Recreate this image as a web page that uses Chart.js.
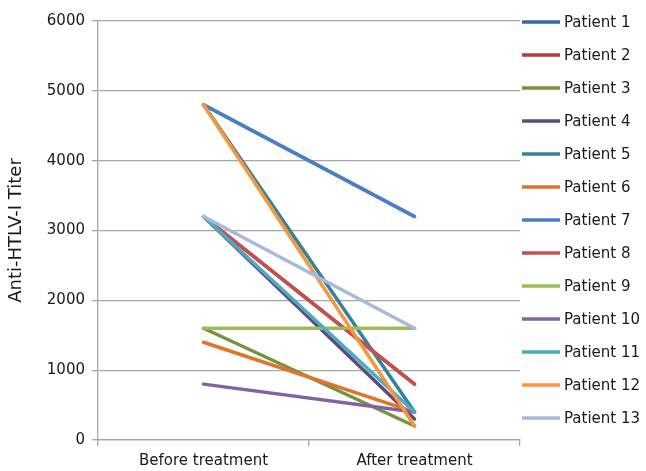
<!DOCTYPE html>
<html>
<head>
<meta charset="utf-8">
<script src="https://cdn.jsdelivr.net/npm/chart.js@4/dist/chart.umd.min.js"></script>
<style>
  html, body { margin: 0; padding: 0; background: #fff; }
  #wrap { width: 646px; height: 471px; }
</style>
</head>
<body>
<div id="wrap"><canvas id="c" width="646" height="471"></canvas></div>
<script>
// Anti-HTLV-I antibody titers per patient, before and after treatment
const timepoints = ['Before treatment', 'After treatment'];
const patients = ['Patient 1', 'Patient 2', 'Patient 3', 'Patient 4', 'Patient 5', 'Patient 6', 'Patient 7',
                  'Patient 8', 'Patient 9', 'Patient 10', 'Patient 11', 'Patient 12', 'Patient 13'];
const before = [4800, 3200, 1600, 3200, 4800, 1400, 4800, 3200, 1600, 800, 3200, 4800, 3200];
const after  = [3200,  800,  200,  300,  400,  400, 3200,  800, 1600, 400,  400,  200, 1600];
const yTicks = [0, 1000, 2000, 3000, 4000, 5000, 6000];
const colors = ['#3a66a3', '#b03c38', '#77933c', '#604a7b', '#31849b', '#e0742a', '#4a7ec9',
                '#c4504d', '#9bbb59', '#8064a2', '#4bacc6', '#f7963c', '#a7badc'];

const FONT = 'DejaVu Sans';
const GRID = '#a6a6a6';
const TEXT = '#1a1a1a';

const datasets = patients.map((name, i) => ({
  label: name,
  data: [before[i], after[i]],
  borderColor: colors[i],
  backgroundColor: colors[i],
  borderWidth: 3.5,
  borderCapStyle: 'round',
  pointRadius: 0,
  pointHoverRadius: 0,
  tension: 0,
  // later series are painted over earlier ones
  order: patients.length - i
}));

// Legend drawn as a single column of line swatches to the right of the plot
const sideLegend = {
  id: 'sideLegend',
  afterDraw(chart) {
    const ctx = chart.ctx;
    const area = chart.chartArea;
    ctx.save();
    ctx.font = '15px "' + FONT + '"';
    ctx.textBaseline = 'middle';
    ctx.fillStyle = TEXT;
    chart.data.datasets.forEach((ds, i) => {
      const y = area.top + 1 + i * 33;
      ctx.strokeStyle = ds.borderColor;
      ctx.lineWidth = 3.5;
      ctx.lineCap = 'butt';
      ctx.beginPath();
      ctx.moveTo(area.right + 2, y);
      ctx.lineTo(area.right + 40, y);
      ctx.stroke();
      ctx.fillText(ds.label, area.right + 44, y + 1);
    });
    ctx.restore();
  }
};

new Chart(document.getElementById('c'), {
  type: 'line',
  data: { labels: timepoints, datasets },
  plugins: [sideLegend],
  options: {
    responsive: false,
    animation: false,
    layout: { padding: { left: 0, right: 126, top: 21, bottom: 0 } },
    plugins: { legend: { display: false }, tooltip: { enabled: false } },
    scales: {
      x: {
        type: 'category',
        offset: true,
        grid: { display: true, offset: true, drawOnChartArea: false, drawTicks: true,
                tickLength: 6, color: GRID, lineWidth: 1.3 },
        border: { display: true, color: GRID, width: 1.3 },
        ticks: { color: TEXT, font: { family: FONT, size: 15 }, padding: 6, maxRotation: 0 },
        afterFit(scale) { scale.height = 31; }
      },
      y: {
        min: 0,
        max: 6000,
        afterBuildTicks(scale) { scale.ticks = yTicks.map(v => ({ value: v })); },
        grid: { color: GRID, lineWidth: 1.3, drawTicks: true, tickLength: 6 },
        border: { display: true, color: GRID, width: 1.3 },
        ticks: { color: TEXT, font: { family: FONT, size: 15 }, padding: 7,
                 callback: v => String(v) },
        title: { display: true, text: 'Anti-HTLV-I Titer', color: TEXT,
                 font: { family: FONT, size: 18 }, padding: { top: 6, bottom: 0 } },
        afterFit(scale) { scale.width = 98; }
      }
    }
  }
});
</script>
</body>
</html>
